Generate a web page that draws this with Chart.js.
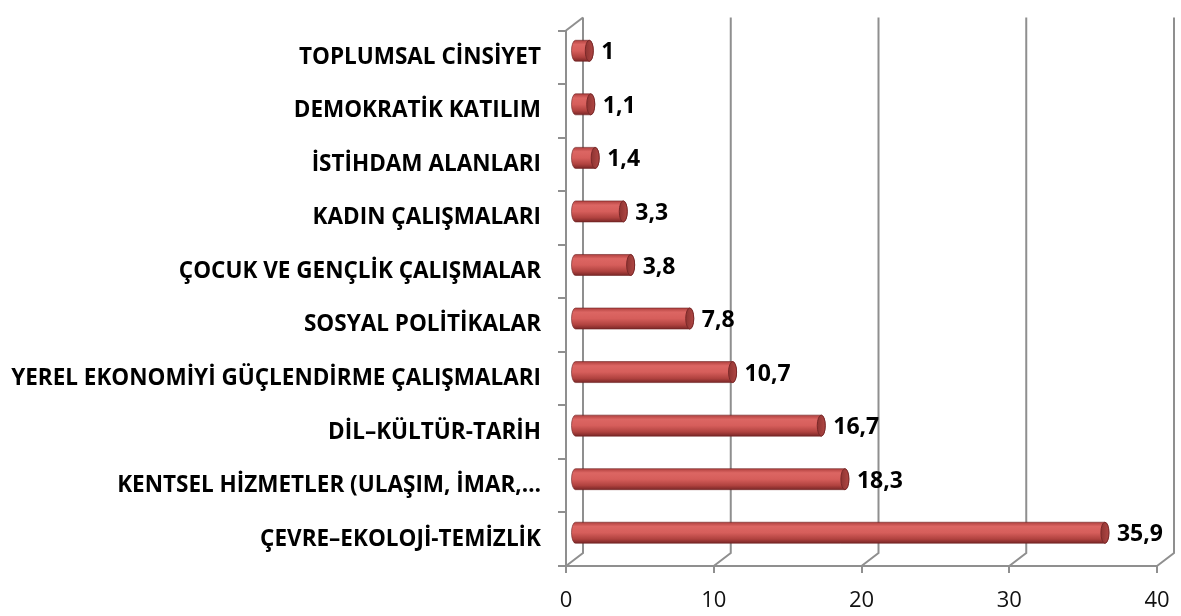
<!DOCTYPE html>
<html>
<head>
<meta charset="utf-8">
<script src="https://cdn.jsdelivr.net/npm/chart.js@4/dist/chart.umd.min.js"></script>
<style>
  html, body { margin: 0; padding: 0; background: #fff; }
  #wrap { width: 1181px; height: 616px; }
</style>
</head>
<body>
<div id="wrap"><canvas id="chart" width="1181" height="616"></canvas></div>
<script>
// Kategoriler (yukarıdan aşağıya)
const categories = [
    "TOPLUMSAL CİNSİYET",
    "DEMOKRATİK KATILIM",
    "İSTİHDAM ALANLARI",
    "KADIN ÇALIŞMALARI",
    "ÇOCUK VE GENÇLİK ÇALIŞMALAR",
    "SOSYAL POLİTİKALAR",
    "YEREL EKONOMİYİ GÜÇLENDİRME ÇALIŞMALARI",
    "DİL–KÜLTÜR-TARİH",
    "KENTSEL HİZMETLER (ULAŞIM, İMAR,…",
    "ÇEVRE–EKOLOJİ-TEMİZLİK",
];
const values = [1, 1.1, 1.4, 3.3, 3.8, 7.8, 10.7, 16.7, 18.3, 35.9];
const xTicks = [0, 10, 20, 30, 40];

const GRID = "#8f8f8f";
const LABEL_FONT = "'Open Sans'";
const DEPTH_X = 17;   // arka duvar kayması
const DEPTH_Y = -13;

// Arka duvar ızgarası ve köşegenler
const wallPlugin = {
    id: "wall",
    beforeDatasetsDraw(chart) {
        const { ctx, chartArea, scales } = chart;
        const top = chartArea.top, bottom = chartArea.bottom;
        ctx.save();
        ctx.strokeStyle = GRID;
        ctx.lineWidth = 2;
        xTicks.forEach((v) => {
            const fx = scales.x.getPixelForValue(v);
            const bx = fx + DEPTH_X;
            ctx.beginPath();
            ctx.moveTo(bx, top + DEPTH_Y);
            ctx.lineTo(bx, bottom + DEPTH_Y);
            ctx.lineTo(fx, bottom);
            ctx.stroke();
        });
        // sol üst köşegen
        const lx = scales.x.getPixelForValue(0);
        ctx.beginPath();
        ctx.moveTo(lx, top);
        ctx.lineTo(lx + DEPTH_X, top + DEPTH_Y);
        ctx.stroke();
        ctx.restore();
    },
};

function cylinder(ctx, x0, x1, yc, h) {
    const rx = 4, ry = h / 2;
    const g = ctx.createLinearGradient(0, yc - ry, 0, yc + ry);
    g.addColorStop(0, "#b0403e");
    g.addColorStop(0.2, "#dc6663");
    g.addColorStop(0.5, "#d65e5b");
    g.addColorStop(0.8, "#b0423f");
    g.addColorStop(1, "#7a2727");
    ctx.beginPath();
    ctx.moveTo(x1, yc - ry);
    ctx.lineTo(x0, yc - ry);
    ctx.ellipse(x0, yc, rx, ry, 0, -Math.PI / 2, Math.PI / 2, true);
    ctx.lineTo(x1, yc + ry);
    ctx.ellipse(x1, yc, rx, ry, 0, Math.PI / 2, -Math.PI / 2, true);
    ctx.closePath();
    ctx.fillStyle = g;
    ctx.fill();
    ctx.strokeStyle = "rgba(110,35,35,0.6)";
    ctx.lineWidth = 1;
    ctx.stroke();
    // uç kapak
    const cg = ctx.createLinearGradient(x1 - rx, 0, x1 + rx, 0);
    cg.addColorStop(0, "#8e3432");
    cg.addColorStop(1, "#b04744");
    ctx.beginPath();
    ctx.ellipse(x1, yc, rx, ry, 0, 0, Math.PI * 2);
    ctx.fillStyle = cg;
    ctx.fill();
    ctx.strokeStyle = "#7a2828";
    ctx.stroke();
}

// Silindir çubuklar ve değer etiketleri
const cylinderPlugin = {
    id: "cylinders",
    afterDatasetsDraw(chart) {
        const { ctx } = chart;
        const meta = chart.getDatasetMeta(0);
        ctx.save();
        meta.data.forEach((bar, i) => {
            const x0 = bar.base + DEPTH_X / 2;
            const x1 = bar.x + DEPTH_X / 2;
            const yc = bar.y + DEPTH_Y / 2;
            cylinder(ctx, x0, x1, yc, bar.height);
            ctx.fillStyle = "#000";
            ctx.font = "bold 23px " + LABEL_FONT;
            ctx.textAlign = "left";
            ctx.textBaseline = "middle";
            ctx.fillText(String(values[i]).replace(".", ","), x1 + 12, yc + 2);
        });
        ctx.restore();
    },
};

new Chart(document.getElementById("chart"), {
    type: "bar",
    data: {
        labels: categories,
        datasets: [
            {
                data: values,
                backgroundColor: "rgba(0,0,0,0)",
                borderWidth: 0,
                barThickness: 21,
            },
        ],
    },
    options: {
        indexAxis: "y",
        responsive: false,
        animation: false,
        layout: { padding: { top: 18, right: 24, bottom: 0, left: 0 } },
        plugins: {
            legend: { display: false },
            tooltip: { enabled: false },
        },
        scales: {
            x: {
                min: 0,
                max: 40,
                afterBuildTicks(scale) {
                    scale.ticks = xTicks.map((v) => ({ value: v }));
                },
                afterFit(scale) {
                    scale.height = 50;
                    scale.paddingLeft = 0;
                    scale.paddingRight = 0;
                },
                grid: {
                    drawOnChartArea: false,
                    drawTicks: true,
                    tickLength: 7,
                    color: GRID,
                    lineWidth: 2,
                },
                border: { color: GRID, width: 2 },
                ticks: {
                    color: "#111",
                    padding: 15,
                    font: { family: LABEL_FONT, size: 22 },
                    maxRotation: 0,
                },
            },
            y: {
                afterFit(scale) {
                    scale.width = 566;
                },
                grid: {
                    offset: true,
                    drawOnChartArea: false,
                    drawTicks: true,
                    tickLength: 8,
                    color: GRID,
                    lineWidth: 2,
                },
                border: { color: GRID, width: 2 },
                ticks: {
                    color: "#000",
                    padding: 17,
                    autoSkip: false,
                    font: { family: LABEL_FONT, size: 22.5, weight: "bold" },
                },
            },
        },
    },
    plugins: [wallPlugin, cylinderPlugin],
});
</script>
</body>
</html>
